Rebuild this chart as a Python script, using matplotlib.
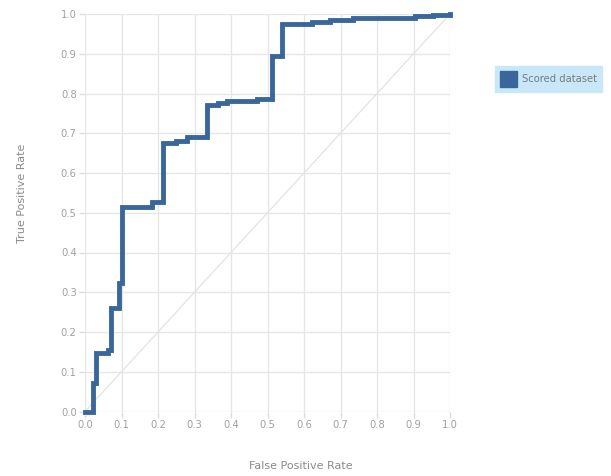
import numpy as np
import matplotlib.pyplot as plt
from matplotlib.patches import Patch

# ROC curve corners (fpr, tpr)
fpr = [0.0, 0.023, 0.030, 0.062, 0.070, 0.094, 0.102, 0.183, 0.215, 0.250,
       0.279, 0.333, 0.365, 0.388, 0.470, 0.511, 0.541, 0.621, 0.671, 0.734,
       0.904, 0.953, 1.0]
tpr = [0.0, 0.072, 0.148, 0.155, 0.260, 0.324, 0.515, 0.526, 0.675, 0.680,
       0.690, 0.770, 0.775, 0.780, 0.785, 0.895, 0.975, 0.981, 0.985, 0.990,
       0.995, 0.998, 1.0]
ticks = np.round(np.arange(0, 1.01, 0.1), 1)
series_name = 'Scored dataset'

plt.rcParams['font.family'] = ['Liberation Sans Narrow', 'DejaVu Sans']

fig = plt.figure(figsize=(6.11, 4.76), dpi=100)
ax = fig.add_axes([85 / 611, 1 - 411.5 / 476, 365 / 611, 397.5 / 476])

line_color = '#3a679b'
ax.plot([0, 1], [0, 1], color='#e3e3e3', lw=0.9, zorder=1)
ax.step(fpr, tpr, where='post', color=line_color, lw=3.5, zorder=3,
        clip_on=False, solid_joinstyle='miter')

ax.set_xlim(0, 1)
ax.set_ylim(0, 1)
ax.set_xticks(ticks)
ax.set_yticks(ticks)
ax.set_xticklabels([f'{t:.1f}' for t in ticks])
ax.set_yticklabels([f'{t:.1f}' for t in ticks])
ax.grid(True, color='#e6e6e6', lw=1)
ax.set_axisbelow(True)
for s in ax.spines.values():
    s.set_visible(False)
ax.tick_params(colors='#dddddd', labelcolor='#a0a0a0', labelsize=7.2,
               length=4, width=1, pad=2)

fig.text(301 / 611, 1 - 466 / 476, 'False Positive Rate', ha='center',
         va='center', fontsize=8, color='#8a8a8a')
fig.text(22 / 611, 1 - 193 / 476, 'True Positive Rate', ha='center',
         va='center', rotation=90, fontsize=8, color='#8a8a8a')

leg = fig.legend(handles=[Patch(facecolor=line_color, edgecolor=line_color)],
                 labels=[series_name], loc='center left',
                 bbox_to_anchor=(495 / 611, 1 - 79 / 476), fontsize=7.2,
                 frameon=True, fancybox=False, facecolor='#c8e8fa',
                 edgecolor='#c8e8fa', framealpha=1, handlelength=1.7,
                 handleheight=2.2, handletextpad=0.5, borderpad=0.5,
                 borderaxespad=0)
for t in leg.get_texts():
    t.set_color('#7a7a7a')

fig.savefig('out.png', dpi=100)
